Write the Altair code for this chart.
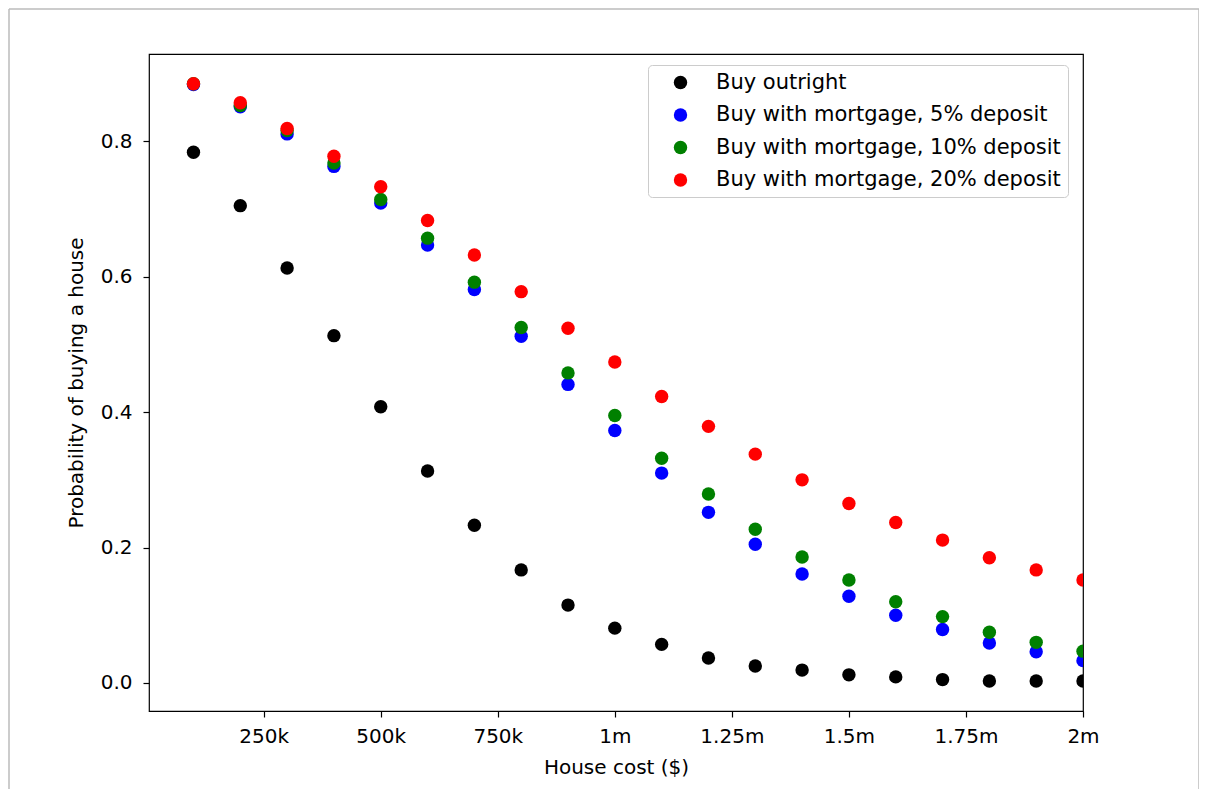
import altair as alt
import pandas as pd

house_cost = [100000, 200000, 300000, 400000, 500000, 600000, 700000, 800000, 900000, 1000000,
              1100000, 1200000, 1300000, 1400000, 1500000, 1600000, 1700000, 1800000, 1900000, 2000000]

series_names = ["Buy outright", "Buy with mortgage, 5% deposit",
                "Buy with mortgage, 10% deposit", "Buy with mortgage, 20% deposit"]
series_colors = ["#000000", "#0000ff", "#008000", "#ff0000"]

outright = [0.784, 0.705, 0.613, 0.513, 0.408, 0.313, 0.233, 0.167, 0.115, 0.081,
            0.057, 0.037, 0.025, 0.019, 0.012, 0.009, 0.005, 0.003, 0.003, 0.003]
mortgage_5 = [0.884, 0.851, 0.811, 0.763, 0.709, 0.647, 0.581, 0.512, 0.441, 0.373,
              0.310, 0.252, 0.205, 0.161, 0.128, 0.100, 0.079, 0.059, 0.046, 0.033]
mortgage_10 = [0.885, 0.853, 0.816, 0.768, 0.714, 0.657, 0.592, 0.525, 0.458, 0.395,
               0.332, 0.279, 0.227, 0.186, 0.152, 0.120, 0.098, 0.075, 0.060, 0.047]
mortgage_20 = [0.885, 0.857, 0.819, 0.778, 0.733, 0.683, 0.632, 0.578, 0.524, 0.474,
               0.423, 0.379, 0.338, 0.300, 0.265, 0.237, 0.211, 0.185, 0.167, 0.152]

x_ticks = [250000, 500000, 750000, 1000000, 1250000, 1500000, 1750000, 2000000]
y_ticks = [0.0, 0.2, 0.4, 0.6, 0.8]

rows = []
for name, vals in zip(series_names, [outright, mortgage_5, mortgage_10, mortgage_20]):
    for c, p in zip(house_cost, vals):
        rows.append({"cost": c, "prob": p, "series": name})
df = pd.DataFrame(rows)

FONT = "DejaVu Sans"

points = alt.Chart(df).mark_circle(size=180, opacity=1, clip=True).encode(
    x=alt.X("cost:Q",
            scale=alt.Scale(domain=[5000, 2000000], nice=False, zero=False),
            axis=alt.Axis(values=x_ticks, title="House cost ($)",
                          labelExpr="datum.value >= 1000000 ? format(datum.value/1000000, '') + 'm' : format(datum.value/1000, '') + 'k'",
                          labelFlush=False, labelPadding=9, titlePadding=11)),
    y=alt.Y("prob:Q",
            scale=alt.Scale(domain=[-0.0414, 0.929], nice=False, zero=False),
            axis=alt.Axis(values=y_ticks, format=".1f", title="Probability of buying a house",
                          labelPadding=11, titlePadding=14)),
    color=alt.Color("series:N",
                    scale=alt.Scale(domain=series_names, range=series_colors),
                    legend=alt.Legend(title=None, orient="none", legendX=499, legendY=11,
                                      padding=7, rowPadding=10.5, symbolType="circle",
                                      symbolSize=180, symbolStrokeWidth=0, symbolOffset=15,
                                      labelOffset=25, labelFontSize=21, labelFont=FONT,
                                      labelColor="#000000", labelLimit=600,
                                      strokeColor="#cccccc", fillColor="#ffffff",
                                      cornerRadius=4)),
)

frame_data = alt.Data(values=[{"k": 1}])
frame_left = alt.Chart(frame_data).mark_rule(color="#bbbbbb", strokeWidth=1.5).encode(
    x=alt.value(-140), y=alt.value(-45), y2=alt.value(745))
frame_top = alt.Chart(frame_data).mark_rule(color="#bbbbbb", strokeWidth=1.5).encode(
    x=alt.value(-140), x2=alt.value(1050), y=alt.value(-45))
frame_right = alt.Chart(frame_data).mark_rule(color="#bbbbbb", strokeWidth=1.5).encode(
    x=alt.value(1050), y=alt.value(-45), y2=alt.value(745))

chart = alt.layer(points, frame_left, frame_top, frame_right).properties(
    width=934, height=657,
    autosize=alt.AutoSizeParams(type="none"),
    padding={"left": 141, "top": 46, "right": 116, "bottom": 78},
    background="#ffffff",
).configure_view(
    stroke="#000000", strokeWidth=1.2
).configure_axis(
    grid=False, domain=False,
    tickColor="#000000", tickWidth=1.2, tickSize=6,
    labelFont=FONT, labelFontSize=20, labelColor="#000000",
    titleFont=FONT, titleFontSize=20, titleColor="#000000", titleFontWeight="normal",
)

chart.save("out.html", embed_options={"renderer": "svg", "actions": False})
